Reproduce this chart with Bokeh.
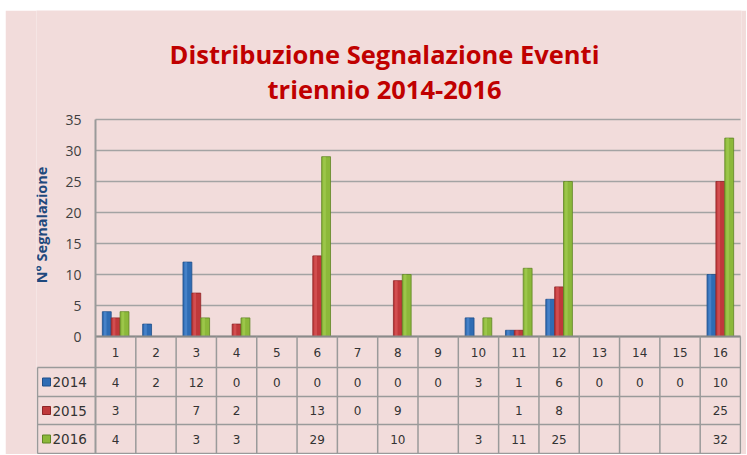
import math
from bokeh.plotting import figure
from bokeh.models import Range1d, FixedTicker, ColumnDataSource
from bokeh.core.properties import value
from bokeh.embed import file_html
from bokeh.resources import INLINE

# ---- data ----
categories = [str(i) for i in range(1, 17)]
years = ["2014", "2015", "2016"]
v2014 = [4, 2, 12, 0, 0, 0, 0, 0, 0, 3, 1, 6, 0, 0, 0, 10]
v2015 = [3, None, 7, 2, None, 13, 0, 9, None, None, 1, 8, None, None, None, 25]
v2016 = [4, None, 3, 3, None, 29, None, 10, None, 3, 11, 25, None, None, None, 32]
y_ticks = [0, 5, 10, 15, 20, 25, 30, 35]
title_lines = ["Distribuzione Segnalazione Eventi", "triennio 2014-2016"]

series = [v2014, v2015, v2016]
colors = ["#2f6cb4", "#c0393b", "#8cb83a"]
light_colors = ["#5a93d8", "#e06062", "#a9d157"]
edge_colors = ["#1f4f8a", "#8e2527", "#5f8424"]

BG = "#f2dcdb"
GRID = "#a3a3a3"
TABLE_LINE = "#9a9a9a"

# ---- geometry helpers (pixels -> data units) ----
FIG_TOP = 10            # page y of the figure top
COL_PX = 40.31          # width of one category column in px
Y_PX = 6.2              # px per y unit
ZERO_Y = 336            # page y of the value 0
AXIS_X_PX = 95          # page x of the value axis
AXIS_X = 0.5            # data x of the value axis (left edge of column "1")
x_start = AXIS_X - 59 / COL_PX
x_end = 16.5 + 1 / COL_PX
y_end = (ZERO_Y - FIG_TOP) / Y_PX
y_start = -118 / Y_PX

def ydata(page_y):
    return (ZERO_Y - page_y) / Y_PX

def xdata(page_x):
    return AXIS_X + (page_x - AXIS_X_PX) / COL_PX

row_edges = [ydata(ZERO_Y + v) for v in [0, 31, 60, 88, 117]]
row_centers = [(row_edges[i] + row_edges[i + 1]) / 2 for i in range(4)]
label_left = xdata(37)

p = figure(width=741, height=444, output_backend="svg", toolbar_location=None,
           x_range=Range1d(x_start, x_end), y_range=Range1d(y_start, y_end),
           min_border_left=31, min_border_right=5, min_border_top=0,
           min_border_bottom=0, x_axis_location=None)
p.margin = (FIG_TOP, 0, 0, 5)
p.background_fill_color = BG
p.border_fill_color = BG
p.outline_line_color = None
p.grid.visible = False

# title (two centred lines)
p.text(x=[xdata(384)] * 2, y=[ydata(53), ydata(88)], text=title_lines,
       text_align="center", text_baseline="alphabetic", text_font=value("Open Sans"),
       text_font_size="25.5px", text_font_style="bold", text_color="#c00000")

# y axis placed at the left edge of the category columns
ax = p.yaxis[0]
ax.fixed_location = AXIS_X
ax.ticker = FixedTicker(ticks=y_ticks)
ax.bounds = (y_start, 35)
ax.major_tick_out = 0
ax.major_tick_in = 0
ax.minor_tick_line_color = None
ax.major_label_standoff = 14
ax.major_label_text_font = "Open Sans"
ax.major_label_text_font_size = "14px"
ax.major_label_text_color = "#404040"
ax.axis_line_color = TABLE_LINE
ax.axis_line_width = 2

# gridlines over the category columns only
p.segment(x0=[AXIS_X] * len(y_ticks), x1=[16.5] * len(y_ticks), y0=y_ticks, y1=y_ticks,
          line_color=GRID, line_width=1.5)

# bars (with a soft highlight strip for the cylinder look)
xs = list(range(1, 17))
bw = 0.22
for k, (vals, c, lc, ec) in enumerate(zip(series, colors, light_colors, edge_colors)):
    tops = [float("nan") if v is None else v for v in vals]
    src = ColumnDataSource(dict(x=[x + (k - 1) * bw for x in xs], top=tops))
    p.vbar(x="x", top="top", bottom=0, width=bw, source=src,
           fill_color=c, line_color=ec, line_width=0.8)
    hl = ColumnDataSource(dict(x=[x + (k - 1) * bw - 0.18 * bw for x in xs], top=tops))
    p.vbar(x="x", top="top", bottom=0, width=0.3 * bw, source=hl,
           fill_color=lc, fill_alpha=0.55, line_color=None)

# data table lines
p.segment(x0=[AXIS_X], x1=[16.5], y0=[0], y1=[0], line_color="#8a8a8a", line_width=2)
for e in row_edges[1:]:
    p.segment(x0=[label_left], x1=[16.5], y0=[e], y1=[e], line_color=TABLE_LINE, line_width=1.5)
vx = [AXIS_X + i for i in range(1, 17)]
p.segment(x0=vx, x1=vx, y0=[0] * 16, y1=[row_edges[-1]] * 16,
          line_color=TABLE_LINE, line_width=1.5)
p.segment(x0=[label_left], x1=[label_left], y0=[row_edges[1]], y1=[row_edges[-1]],
          line_color=TABLE_LINE, line_width=1.5)

# table texts
p.text(x=xs, y=[row_centers[0]] * 16, text=categories, text_align="center",
       text_baseline="middle", text_font=value("DejaVu Sans"), text_font_size="12px",
       text_color="#333333")
for k, vals in enumerate(series):
    txt = ["" if v is None else str(v) for v in vals]
    p.text(x=xs, y=[row_centers[k + 1]] * 16, text=txt, text_align="center",
           text_baseline="middle", text_font=value("DejaVu Sans"), text_font_size="12px",
           text_color="#333333")

# row labels with legend keys
p.scatter(x=[xdata(46)] * 3, y=row_centers[1:], marker="square", size=8,
          fill_color=colors, line_color=edge_colors)
p.text(x=[xdata(52)] * 3, y=row_centers[1:], text=years,
       text_align="left", text_baseline="middle", text_font=value("DejaVu Sans"),
       text_font_size="13.5px", text_color="#333333")

# value-axis title
p.text(x=[xdata(41)], y=[18], text=["N° Segnalazione"], angle=math.pi / 2,
       text_align="center", text_baseline="middle", text_font=value("Open Sans"),
       text_font_size="14.5px", text_font_style="bold", text_color="#1f497d")

open("out.html", "w").write(file_html(p, INLINE))
